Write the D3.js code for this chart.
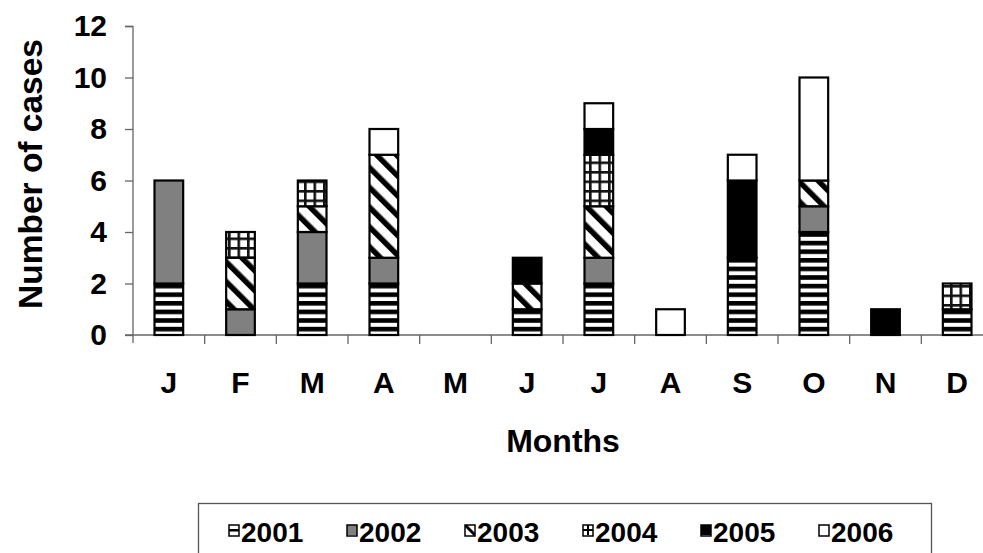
<!DOCTYPE html>
<html>
<head>
<meta charset="utf-8">
<script src="https://cdn.jsdelivr.net/npm/d3@7"></script>
<style>
  html, body { margin: 0; padding: 0; background: #fff; }
  svg { display: block; }
  text { font-family: "Liberation Sans", Arial, sans-serif; font-weight: bold; fill: #000; }
</style>
</head>
<body>
<svg id="chart" width="983" height="553"></svg>
<script>
const months = ["J","F","M","A","M","J","J","A","S","O","N","D"];
const years = ["2001","2002","2003","2004","2005","2006"];
const s2001 = [2,0,2,2,0,1,2,0,3,4,0,1];
const s2002 = [4,1,2,1,0,0,1,0,0,1,0,0];
const s2003 = [0,2,1,4,0,1,2,0,0,1,0,0];
const s2004 = [0,1,1,0,0,0,2,0,0,0,0,1];
const s2005 = [0,0,0,0,0,1,1,0,3,0,1,0];
const s2006 = [0,0,0,1,0,0,1,1,1,4,0,0];
const yTicks = [0,2,4,6,8,10,12];

const seriesByYear = {"2001": s2001, "2002": s2002, "2003": s2003, "2004": s2004, "2005": s2005, "2006": s2006};
const rows = months.map((m, i) => {
  const r = {idx: i, month: m};
  years.forEach(y => r[y] = seriesByYear[y][i]);
  return r;
});

const svg = d3.select("#chart");
const defs = svg.append("defs");

// Patterns
const p1 = defs.append("pattern").attr("id","pat2001").attr("patternUnits","userSpaceOnUse")
  .attr("width", 10).attr("height", 8.6);
p1.append("rect").attr("width",10).attr("height",8.6).attr("fill","#fff");
p1.append("rect").attr("y",0).attr("width",10).attr("height",4.6).attr("fill","#000");
const p2 = defs.append("pattern").attr("id","pat2002").attr("patternUnits","userSpaceOnUse")
  .attr("width", 10).attr("height", 10);
p2.append("rect").attr("width",10).attr("height",10).attr("fill","#808080");
const p3 = defs.append("pattern").attr("id","pat2003").attr("patternUnits","userSpaceOnUse")
  .attr("width", 14).attr("height", 14).attr("patternTransform","rotate(-45)");
p3.append("rect").attr("width",14).attr("height",14).attr("fill","#fff");
p3.append("rect").attr("x",0).attr("width",5.5).attr("height",14).attr("fill","#000");
const p4 = defs.append("pattern").attr("id","pat2004").attr("patternUnits","userSpaceOnUse")
  .attr("width", 9.5).attr("height", 9.5);
p4.append("rect").attr("width",9.5).attr("height",9.5).attr("fill","#fff");
p4.append("rect").attr("x",0).attr("width",2.6).attr("height",9.5).attr("fill","#111");
p4.append("rect").attr("y",0).attr("width",9.5).attr("height",2.6).attr("fill","#111");
const p5 = defs.append("pattern").attr("id","pat2005").attr("patternUnits","userSpaceOnUse")
  .attr("width", 10).attr("height", 10);
p5.append("rect").attr("width",10).attr("height",10).attr("fill","#000");
const p6 = defs.append("pattern").attr("id","pat2006").attr("patternUnits","userSpaceOnUse")
  .attr("width", 10).attr("height", 10);
p6.append("rect").attr("width",10).attr("height",10).attr("fill","#fff");

// small legend patterns
const lp = [
  ["2001", g => { g.append("rect").attr("width",10).attr("height",10).attr("fill","#fff"); g.append("rect").attr("y",4).attr("width",10).attr("height",2.5).attr("fill","#000"); }],
  ["2002", g => { g.append("rect").attr("width",10).attr("height",10).attr("fill","#808080"); }],
  ["2003", g => { g.append("rect").attr("width",10).attr("height",10).attr("fill","#fff"); g.append("path").attr("d","M0,0L10,10").attr("stroke","#000").attr("stroke-width",3); }],
  ["2004", g => { g.append("rect").attr("width",10).attr("height",10).attr("fill","#fff"); g.append("rect").attr("y",4).attr("width",10).attr("height",2).attr("fill","#000"); g.append("rect").attr("x",4).attr("width",2).attr("height",10).attr("fill","#000"); }],
  ["2005", g => { g.append("rect").attr("width",10).attr("height",10).attr("fill","#000"); }],
  ["2006", g => { g.append("rect").attr("width",10).attr("height",10).attr("fill","#fff"); }]
];
lp.forEach(([k, f]) => {
  const p = defs.append("pattern").attr("id", "leg" + k).attr("patternUnits", "objectBoundingBox")
    .attr("patternContentUnits", "userSpaceOnUse").attr("width", 1).attr("height", 1);
  f(p);
});

const x = d3.scaleBand().domain(d3.range(months.length)).range([133, 993])
  .paddingInner(0.6).paddingOuter(0.3);
const y = d3.scaleLinear().domain([0, 12]).range([335, 26]);

// Y axis
const yAxis = svg.append("g").attr("transform", "translate(133,0)")
  .call(d3.axisLeft(y).tickValues(yTicks).tickSize(8).tickPadding(18).tickFormat(d3.format("d")));
yAxis.select(".domain").attr("stroke", "#666").attr("stroke-width", 1.3).attr("d", "M-8,26.5H0V343");
yAxis.selectAll(".tick line").attr("stroke", "#666").attr("stroke-width", 1.3);
yAxis.selectAll(".tick text").style("font-size", "30px").style("font-family", "'Liberation Sans', Arial, sans-serif")
  .style("font-weight", "bold").attr("fill", "#000");

// X axis line and boundary ticks
svg.append("line").attr("x1", 125).attr("x2", 993).attr("y1", y(0)).attr("y2", y(0))
  .attr("stroke", "#666").attr("stroke-width", 1.3);
svg.append("g").selectAll("line").data(d3.range(1, months.length + 1)).join("line")
  .attr("x1", d => x.range()[0] + d * x.step()).attr("x2", d => x.range()[0] + d * x.step())
  .attr("y1", y(0)).attr("y2", y(0) + 9)
  .attr("stroke", "#666").attr("stroke-width", 1.3);

// Month labels
svg.append("g").selectAll("text").data(rows).join("text")
  .attr("x", d => x(d.idx) + x.bandwidth() / 2)
  .attr("y", 393)
  .attr("text-anchor", "middle")
  .style("font-size", "30px")
  .text(d => d.month);

// Bars
const stacked = d3.stack().keys(years)(rows);
svg.append("g").selectAll("g").data(stacked).join("g")
  .attr("fill", d => "url(#pat" + d.key + ")")
  .selectAll("rect").data(d => d.filter(s => s[1] - s[0] > 0)).join("rect")
  .attr("x", d => x(d.data.idx))
  .attr("width", x.bandwidth())
  .attr("y", d => y(d[1]))
  .attr("height", d => y(d[0]) - y(d[1]))
  .attr("stroke", "#000").attr("stroke-width", 2.2);

// Axis titles
svg.append("text").attr("x", (133 + 993) / 2).attr("y", 452).attr("text-anchor", "middle")
  .style("font-size", "32px").text("Months");
svg.append("text").attr("transform", "translate(42,174) rotate(-90)").attr("text-anchor", "middle")
  .style("font-size", "33.5px").text("Number of cases");

// Legend
svg.append("rect").attr("x", 198.5).attr("y", 503.5).attr("width", 733).attr("height", 80)
  .attr("fill", "#fff").attr("stroke", "#555").attr("stroke-width", 1.3);
const leg = svg.append("g").selectAll("g").data(years).join("g")
  .attr("transform", (d, i) => `translate(${229 + i * 118},525)`);
leg.append("rect").attr("width", 10).attr("height", 11)
  .attr("fill", d => "url(#leg" + d + ")").attr("stroke", "#000").attr("stroke-width", 1.5);
leg.append("text").attr("x", 12).attr("y", 17).style("font-size", "28px").text(d => d);
</script>
</body>
</html>
